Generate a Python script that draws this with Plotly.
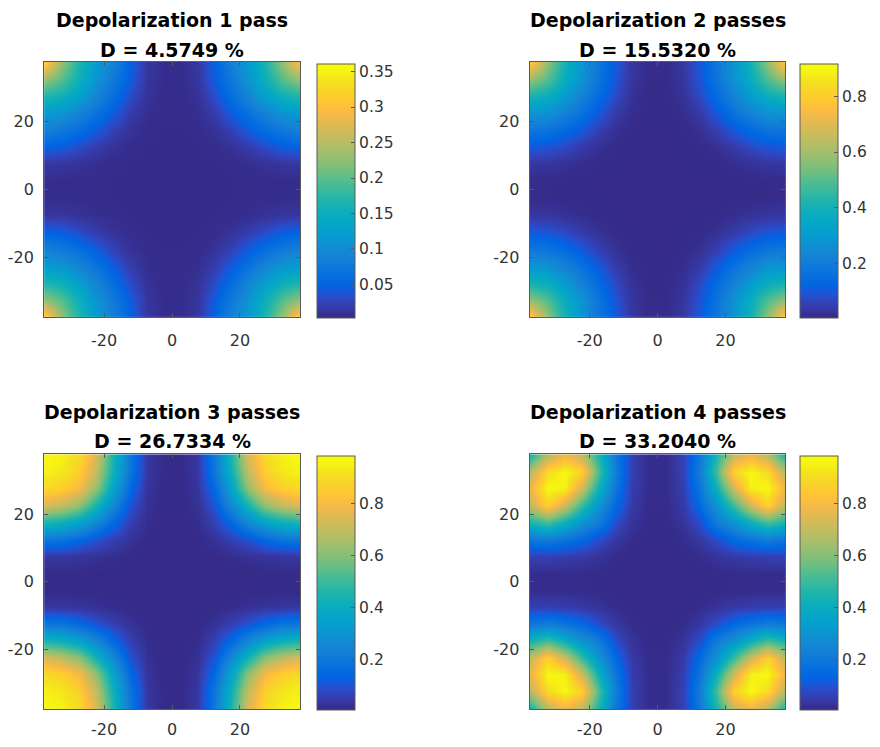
import plotly.graph_objects as go

# The page body has an 8 px margin on every side; the figure is sized so
# that it fits inside the 880x747 window and positions are given in page pixels.
PAGE_W, PAGE_H, BODY = 880, 747, 8
W, H = PAGE_W - 2 * BODY, PAGE_H - 2 * BODY

# ---------------- data ----------------
coords = [-37.5, -32.5, -27.5, -22.5, -17.5, -12.5, -7.5, -2.5,
          2.5, 7.5, 12.5, 17.5, 22.5, 27.5, 32.5, 37.5]

titles = ["Depolarization 1 pass", "Depolarization 2 passes",
          "Depolarization 3 passes", "Depolarization 4 passes"]
d_values = ["4.5749", "15.5320", "26.7334", "33.2040"]

cbar_ranges = [(0.002, 0.36), (0.003, 0.914), (0.007, 0.984), (0.007, 0.984)]
cbar_ticks = [[0.05, 0.1, 0.15, 0.2, 0.25, 0.3, 0.35],
              [0.2, 0.4, 0.6, 0.8],
              [0.2, 0.4, 0.6, 0.8],
              [0.2, 0.4, 0.6, 0.8]]
axis_ticks = [-20, 0, 20]
axis_ticktext = ["-20", "0", "20"]

# rows run from y = -37.5 (bottom) to y = 37.5 (top)
z_pass1 = [
    [0.32, 0.225, 0.165, 0.12, 0.085, 0.047, 0.013, 0.005, 0.005, 0.013, 0.047, 0.085, 0.12, 0.165, 0.225, 0.32],
    [0.225, 0.195, 0.152, 0.11, 0.075, 0.042, 0.012, 0.005, 0.005, 0.012, 0.042, 0.075, 0.11, 0.152, 0.195, 0.225],
    [0.165, 0.152, 0.125, 0.09, 0.06, 0.03, 0.009, 0.0045, 0.0045, 0.009, 0.03, 0.06, 0.09, 0.125, 0.152, 0.165],
    [0.12, 0.11, 0.09, 0.065, 0.042, 0.018, 0.006, 0.004, 0.004, 0.006, 0.018, 0.042, 0.065, 0.09, 0.11, 0.12],
    [0.085, 0.075, 0.06, 0.042, 0.022, 0.009, 0.0045, 0.0035, 0.0035, 0.0045, 0.009, 0.022, 0.042, 0.06, 0.075, 0.085],
    [0.047, 0.042, 0.03, 0.018, 0.009, 0.005, 0.0035, 0.003, 0.003, 0.0035, 0.005, 0.009, 0.018, 0.03, 0.042, 0.047],
    [0.013, 0.012, 0.009, 0.006, 0.0045, 0.0035, 0.003, 0.003, 0.003, 0.003, 0.0035, 0.0045, 0.006, 0.009, 0.012, 0.013],
    [0.005, 0.005, 0.0045, 0.004, 0.0035, 0.003, 0.003, 0.003, 0.003, 0.003, 0.003, 0.0035, 0.004, 0.0045, 0.005, 0.005],
    [0.005, 0.005, 0.0045, 0.004, 0.0035, 0.003, 0.003, 0.003, 0.003, 0.003, 0.003, 0.0035, 0.004, 0.0045, 0.005, 0.005],
    [0.013, 0.012, 0.009, 0.006, 0.0045, 0.0035, 0.003, 0.003, 0.003, 0.003, 0.0035, 0.0045, 0.006, 0.009, 0.012, 0.013],
    [0.047, 0.042, 0.03, 0.018, 0.009, 0.005, 0.0035, 0.003, 0.003, 0.0035, 0.005, 0.009, 0.018, 0.03, 0.042, 0.047],
    [0.085, 0.075, 0.06, 0.042, 0.022, 0.009, 0.0045, 0.0035, 0.0035, 0.0045, 0.009, 0.022, 0.042, 0.06, 0.075, 0.085],
    [0.12, 0.11, 0.09, 0.065, 0.042, 0.018, 0.006, 0.004, 0.004, 0.006, 0.018, 0.042, 0.065, 0.09, 0.11, 0.12],
    [0.165, 0.152, 0.125, 0.09, 0.06, 0.03, 0.009, 0.0045, 0.0045, 0.009, 0.03, 0.06, 0.09, 0.125, 0.152, 0.165],
    [0.225, 0.195, 0.152, 0.11, 0.075, 0.042, 0.012, 0.005, 0.005, 0.012, 0.042, 0.075, 0.11, 0.152, 0.195, 0.225],
    [0.32, 0.225, 0.165, 0.12, 0.085, 0.047, 0.013, 0.005, 0.005, 0.013, 0.047, 0.085, 0.12, 0.165, 0.225, 0.30],
]

z_pass2 = [
    [0.80, 0.57, 0.40, 0.285, 0.18, 0.10, 0.032, 0.008, 0.008, 0.032, 0.10, 0.18, 0.285, 0.40, 0.57, 0.80],
    [0.57, 0.49, 0.37, 0.27, 0.17, 0.09, 0.029, 0.007, 0.007, 0.029, 0.09, 0.17, 0.27, 0.37, 0.49, 0.57],
    [0.40, 0.37, 0.30, 0.22, 0.14, 0.07, 0.02, 0.006, 0.006, 0.02, 0.07, 0.14, 0.22, 0.30, 0.37, 0.40],
    [0.285, 0.27, 0.22, 0.16, 0.10, 0.04, 0.012, 0.005, 0.005, 0.012, 0.04, 0.10, 0.16, 0.22, 0.27, 0.285],
    [0.18, 0.17, 0.14, 0.10, 0.05, 0.018, 0.006, 0.004, 0.004, 0.006, 0.018, 0.05, 0.10, 0.14, 0.17, 0.18],
    [0.10, 0.09, 0.07, 0.04, 0.018, 0.007, 0.0045, 0.004, 0.004, 0.0045, 0.007, 0.018, 0.04, 0.07, 0.09, 0.10],
    [0.032, 0.029, 0.02, 0.012, 0.006, 0.0045, 0.004, 0.004, 0.004, 0.004, 0.0045, 0.006, 0.012, 0.02, 0.029, 0.032],
    [0.008, 0.007, 0.006, 0.005, 0.004, 0.004, 0.004, 0.004, 0.004, 0.004, 0.004, 0.004, 0.005, 0.006, 0.007, 0.008],
    [0.008, 0.007, 0.006, 0.005, 0.004, 0.004, 0.004, 0.004, 0.004, 0.004, 0.004, 0.004, 0.005, 0.006, 0.007, 0.008],
    [0.032, 0.029, 0.02, 0.012, 0.006, 0.0045, 0.004, 0.004, 0.004, 0.004, 0.0045, 0.006, 0.012, 0.02, 0.029, 0.032],
    [0.10, 0.09, 0.07, 0.04, 0.018, 0.007, 0.0045, 0.004, 0.004, 0.0045, 0.007, 0.018, 0.04, 0.07, 0.09, 0.10],
    [0.18, 0.17, 0.14, 0.10, 0.05, 0.018, 0.006, 0.004, 0.004, 0.006, 0.018, 0.05, 0.10, 0.14, 0.17, 0.18],
    [0.285, 0.27, 0.22, 0.16, 0.10, 0.04, 0.012, 0.005, 0.005, 0.012, 0.04, 0.10, 0.16, 0.22, 0.27, 0.285],
    [0.40, 0.37, 0.30, 0.22, 0.14, 0.07, 0.02, 0.006, 0.006, 0.02, 0.07, 0.14, 0.22, 0.30, 0.37, 0.40],
    [0.57, 0.49, 0.37, 0.27, 0.17, 0.09, 0.029, 0.007, 0.007, 0.029, 0.09, 0.17, 0.27, 0.37, 0.49, 0.57],
    [0.80, 0.57, 0.40, 0.285, 0.18, 0.10, 0.032, 0.008, 0.008, 0.032, 0.10, 0.18, 0.285, 0.40, 0.57, 0.80],
]

z_pass3 = [
    [0.97, 0.95, 0.90, 0.74, 0.45, 0.20, 0.04, 0.01, 0.01, 0.04, 0.20, 0.45, 0.74, 0.90, 0.95, 0.97],
    [0.95, 0.93, 0.87, 0.70, 0.42, 0.19, 0.038, 0.01, 0.01, 0.038, 0.19, 0.42, 0.70, 0.87, 0.93, 0.95],
    [0.90, 0.87, 0.80, 0.62, 0.36, 0.15, 0.032, 0.009, 0.009, 0.032, 0.15, 0.36, 0.62, 0.80, 0.87, 0.90],
    [0.74, 0.70, 0.62, 0.44, 0.26, 0.10, 0.024, 0.008, 0.008, 0.024, 0.10, 0.26, 0.44, 0.62, 0.70, 0.74],
    [0.45, 0.42, 0.36, 0.26, 0.15, 0.06, 0.016, 0.007, 0.007, 0.016, 0.06, 0.15, 0.26, 0.36, 0.42, 0.45],
    [0.20, 0.19, 0.15, 0.10, 0.06, 0.027, 0.01, 0.007, 0.007, 0.01, 0.027, 0.06, 0.10, 0.15, 0.19, 0.20],
    [0.04, 0.038, 0.032, 0.024, 0.016, 0.01, 0.007, 0.007, 0.007, 0.007, 0.01, 0.016, 0.024, 0.032, 0.038, 0.04],
    [0.01, 0.01, 0.009, 0.008, 0.007, 0.007, 0.007, 0.007, 0.007, 0.007, 0.007, 0.007, 0.008, 0.009, 0.01, 0.01],
    [0.01, 0.01, 0.009, 0.008, 0.007, 0.007, 0.007, 0.007, 0.007, 0.007, 0.007, 0.007, 0.008, 0.009, 0.01, 0.01],
    [0.04, 0.038, 0.032, 0.024, 0.016, 0.01, 0.007, 0.007, 0.007, 0.007, 0.01, 0.016, 0.024, 0.032, 0.038, 0.04],
    [0.20, 0.19, 0.15, 0.10, 0.06, 0.027, 0.01, 0.007, 0.007, 0.01, 0.027, 0.06, 0.10, 0.15, 0.19, 0.20],
    [0.45, 0.42, 0.36, 0.26, 0.15, 0.06, 0.016, 0.007, 0.007, 0.016, 0.06, 0.15, 0.26, 0.36, 0.42, 0.45],
    [0.74, 0.70, 0.62, 0.44, 0.26, 0.10, 0.024, 0.008, 0.008, 0.024, 0.10, 0.26, 0.44, 0.62, 0.70, 0.74],
    [0.90, 0.87, 0.80, 0.62, 0.36, 0.15, 0.032, 0.009, 0.009, 0.032, 0.15, 0.36, 0.62, 0.80, 0.87, 0.90],
    [0.95, 0.93, 0.87, 0.70, 0.42, 0.19, 0.038, 0.01, 0.01, 0.038, 0.19, 0.42, 0.70, 0.87, 0.93, 0.95],
    [0.97, 0.95, 0.90, 0.74, 0.45, 0.20, 0.04, 0.01, 0.01, 0.04, 0.20, 0.45, 0.74, 0.90, 0.95, 0.97],
]

z_pass4 = [
    [0.45, 0.68, 0.78, 0.70, 0.45, 0.20, 0.06, 0.015, 0.015, 0.06, 0.20, 0.45, 0.70, 0.78, 0.68, 0.45],
    [0.68, 0.90, 0.97, 0.88, 0.52, 0.22, 0.06, 0.015, 0.015, 0.06, 0.22, 0.52, 0.88, 0.97, 0.90, 0.68],
    [0.78, 0.97, 0.95, 0.72, 0.42, 0.19, 0.055, 0.014, 0.014, 0.055, 0.19, 0.42, 0.72, 0.95, 0.97, 0.78],
    [0.70, 0.88, 0.72, 0.50, 0.30, 0.15, 0.045, 0.012, 0.012, 0.045, 0.15, 0.30, 0.50, 0.72, 0.88, 0.70],
    [0.45, 0.52, 0.42, 0.30, 0.22, 0.09, 0.03, 0.01, 0.01, 0.03, 0.09, 0.22, 0.30, 0.42, 0.52, 0.45],
    [0.20, 0.22, 0.19, 0.15, 0.09, 0.04, 0.015, 0.008, 0.008, 0.015, 0.04, 0.09, 0.15, 0.19, 0.22, 0.20],
    [0.06, 0.06, 0.055, 0.045, 0.03, 0.015, 0.008, 0.007, 0.007, 0.008, 0.015, 0.03, 0.045, 0.055, 0.06, 0.06],
    [0.015, 0.015, 0.014, 0.012, 0.01, 0.008, 0.007, 0.007, 0.007, 0.007, 0.008, 0.01, 0.012, 0.014, 0.015, 0.015],
    [0.015, 0.015, 0.014, 0.012, 0.01, 0.008, 0.007, 0.007, 0.007, 0.007, 0.008, 0.01, 0.012, 0.014, 0.015, 0.015],
    [0.06, 0.06, 0.055, 0.045, 0.03, 0.015, 0.008, 0.007, 0.007, 0.008, 0.015, 0.03, 0.045, 0.055, 0.06, 0.06],
    [0.20, 0.22, 0.19, 0.15, 0.09, 0.04, 0.015, 0.008, 0.008, 0.015, 0.04, 0.09, 0.15, 0.19, 0.22, 0.20],
    [0.45, 0.52, 0.42, 0.30, 0.22, 0.09, 0.03, 0.01, 0.01, 0.03, 0.09, 0.22, 0.30, 0.42, 0.52, 0.45],
    [0.70, 0.88, 0.72, 0.50, 0.30, 0.15, 0.045, 0.012, 0.012, 0.045, 0.15, 0.30, 0.50, 0.72, 0.88, 0.70],
    [0.78, 0.97, 0.95, 0.72, 0.42, 0.19, 0.055, 0.014, 0.014, 0.055, 0.19, 0.42, 0.72, 0.95, 0.97, 0.78],
    [0.68, 0.90, 0.97, 0.88, 0.52, 0.22, 0.06, 0.015, 0.015, 0.06, 0.22, 0.52, 0.88, 0.97, 0.90, 0.68],
    [0.45, 0.68, 0.78, 0.70, 0.45, 0.20, 0.06, 0.015, 0.015, 0.06, 0.20, 0.45, 0.70, 0.78, 0.68, 0.45],
]

z_all = [z_pass1, z_pass2, z_pass3, z_pass4]

# ---------------- style ----------------
parula_rgb = [
    (0.2081, 0.1663, 0.5292), (0.2123, 0.2138, 0.6270), (0.1959, 0.2645, 0.7279),
    (0.1253, 0.3242, 0.8303), (0.0117, 0.3875, 0.8820), (0.0165, 0.4266, 0.8786),
    (0.0498, 0.4586, 0.8641), (0.0723, 0.4887, 0.8467), (0.0793, 0.5200, 0.8312),
    (0.0641, 0.5570, 0.8240), (0.0343, 0.5966, 0.8199), (0.0239, 0.6287, 0.8038),
    (0.0228, 0.6535, 0.7768), (0.0384, 0.6743, 0.7436), (0.0843, 0.6928, 0.7062),
    (0.1453, 0.7098, 0.6646), (0.2178, 0.7250, 0.6193), (0.3022, 0.7376, 0.5712),
    (0.3953, 0.7459, 0.5244), (0.4871, 0.7491, 0.4840), (0.5709, 0.7485, 0.4494),
    (0.6473, 0.7456, 0.4188), (0.7184, 0.7411, 0.3905), (0.7858, 0.7356, 0.3633),
    (0.8507, 0.7299, 0.3360), (0.9139, 0.7258, 0.3063), (0.9739, 0.7314, 0.2666),
    (0.9990, 0.7653, 0.2164), (0.9880, 0.8066, 0.1794), (0.9697, 0.8481, 0.1475),
    (0.9589, 0.8949, 0.1132), (0.9661, 0.9514, 0.0755), (0.9763, 0.9831, 0.0538),
]
n = len(parula_rgb)
parula = [[i / (n - 1), "rgb(%d,%d,%d)" % tuple(round(c * 255) for c in rgb)]
          for i, rgb in enumerate(parula_rgb)]

FONT = "DejaVu Sans"
TXT = "#333333"
LINE = "#5a5a5a"

# pixel geometry (page pixels) of the four panels: (left, top, right, bottom)
plots = [(44.3, 62.3, 301.7, 319.5), (532.7, 62.3, 790.0, 319.5),
         (44.3, 457.3, 301.7, 714.0), (532.7, 457.3, 790.0, 714.0)]
cbars = [(319.0, 66.0, 319.5), (805.0, 66.0, 319.5),
         (319.0, 460.0, 714.0), (805.0, 460.0, 714.0)]
title_y = [(20.5, 50.5), (20.5, 50.5), (414.5, 444.0), (414.5, 444.0)]
xlab_standoff = [8, 8, 6, 6]


def px(x):
    return (x - BODY) / W


def py(y):
    return 1 - (y - BODY) / H


fig = go.Figure()
annotations = []
for i in range(4):
    L, T, R, B = plots[i]
    cx, ct, cb = cbars[i]
    suffix = "" if i == 0 else str(i + 1)
    fig.add_trace(go.Heatmap(
        x=coords, y=coords, z=z_all[i], zsmooth="best",
        zmin=cbar_ranges[i][0], zmax=cbar_ranges[i][1],
        colorscale=parula, xaxis="x" + suffix, yaxis="y" + suffix,
        hoverinfo="skip",
        colorbar=dict(
            x=px(cx), xanchor="left", xpad=0,
            y=py((ct + cb) / 2), yanchor="middle", ypad=0,
            len=cb - ct, lenmode="pixels", thickness=38, thicknessmode="pixels",
            outlinewidth=1, outlinecolor=LINE,
            ticks="inside", ticklen=4, tickcolor=LINE,
            tickvals=cbar_ticks[i],
            tickfont=dict(family=FONT, size=15.5, color=TXT),
        ),
    ))
    axcommon = dict(
        range=[-37.7, 37.7], tickvals=axis_ticks, ticktext=axis_ticktext,
        ticks="inside", ticklen=4,
        tickcolor=LINE, showline=True, linecolor=LINE, linewidth=1,
        mirror="allticks", showgrid=False, zeroline=False,
        tickfont=dict(family=FONT, size=16, color=TXT),
    )
    fig.update_layout(**{
        "xaxis" + suffix: dict(axcommon, domain=[px(L), px(R)],
                               anchor="y" + suffix,
                               ticklabelstandoff=xlab_standoff[i]),
        "yaxis" + suffix: dict(axcommon, domain=[py(B), py(T)],
                               anchor="x" + suffix, ticklabelstandoff=6),
    })
    tx = px((L + R) / 2)
    annotations.append(dict(
        text="<b>%s</b>" % titles[i], x=tx, y=py(title_y[i][0]),
        xref="paper", yref="paper", xanchor="center", yanchor="middle",
        showarrow=False, font=dict(family=FONT, size=19, color="#000000")))
    annotations.append(dict(
        text="<b>D = %s %%</b>" % d_values[i], x=tx, y=py(title_y[i][1]),
        xref="paper", yref="paper", xanchor="center", yanchor="middle",
        showarrow=False, font=dict(family=FONT, size=19, color="#000000")))

fig.update_layout(
    width=W, height=H, margin=dict(l=0, r=0, t=0, b=0),
    paper_bgcolor="white", plot_bgcolor="white",
    annotations=annotations, showlegend=False,
)

fig.write_html("out.html")
